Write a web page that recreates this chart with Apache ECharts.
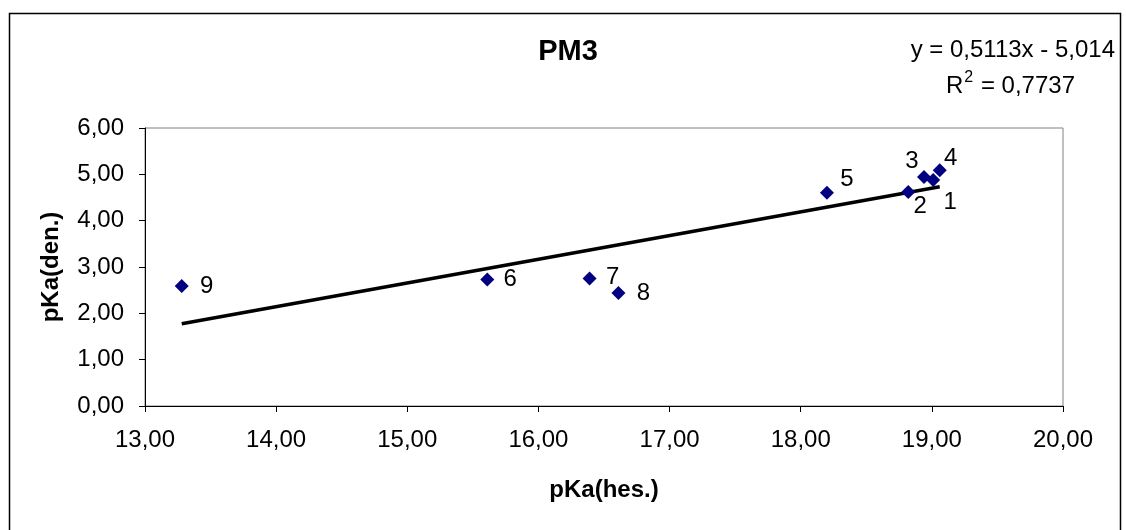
<!DOCTYPE html>
<html>
<head>
<meta charset="utf-8">
<script src="https://cdn.jsdelivr.net/npm/echarts@6/dist/echarts.min.js"></script>
<style>
html,body{margin:0;padding:0;background:#fff;}
#chart{width:1126px;height:530px;}
</style>
</head>
<body>
<div id="chart"></div>
<script>
// ---- data ----
const pointNames = ['1','2','3','4','5','6','7','8','9'];
const pkaHes = [19.01, 18.82, 18.94, 19.06, 18.20, 15.61, 16.39, 16.61, 13.28];
const pkaDen = [4.88, 4.62, 4.94, 5.09, 4.60, 2.73, 2.75, 2.44, 2.59];
const trendSlope = 0.5113;
const trendIntercept = -5.014;
const rSquared = '0,7737';
const xTicks = [13, 14, 15, 16, 17, 18, 19, 20];
const yTicks = [0, 1, 2, 3, 4, 5, 6];

// ---- styling (label placement per point) ----
const labelOffsets = [[17,22],[12,14],[-12,-16],[11,-12],[20,-13],[23,0],[23,-1],[25,0],[25,0]];

const fmt = v => v.toFixed(2).replace('.', ',');
const FONT = 'Liberation Sans, Arial, sans-serif';

const pts = pkaHes.map((x, i) => ({
  value: [x, pkaDen[i]],
  name: pointNames[i],
  label: { offset: labelOffsets[i] }
}));
const xMinData = Math.min(...pkaHes), xMaxData = Math.max(...pkaHes);
const trend = [xMinData, xMaxData].map(x => [x, trendSlope * x + trendIntercept]);

const chart = echarts.init(document.getElementById('chart'), null, {renderer: 'canvas'});
chart.setOption({
  animation: false,
  backgroundColor: '#fff',
  textStyle: { fontFamily: FONT },
  title: {
    text: 'PM3',
    left: 563, top: 32, textAlign: 'center',
    textStyle: { fontFamily: FONT, fontSize: 29, fontWeight: 'bold', color: '#000' }
  },
  grid: {
    left: 145, right: 63, top: 128, bottom: 124,
    show: true, borderColor: '#808080', borderWidth: 1, backgroundColor: '#fff'
  },
  xAxis: {
    type: 'value', min: xTicks[0], max: xTicks[xTicks.length-1], interval: 1,
    name: 'pKa(hes.)', nameLocation: 'middle', nameGap: 72,
    nameTextStyle: { fontFamily: FONT, fontSize: 24, fontWeight: 'bold', color: '#000' },
    axisLine: { lineStyle: { color: '#000', width: 1 } },
    axisTick: { inside: false, length: 6, lineStyle: { color: '#000' } },
    axisLabel: { formatter: fmt, fontSize: 24, color: '#000', margin: 22, fontFamily: FONT },
    splitLine: { show: false }
  },
  yAxis: {
    type: 'value', min: yTicks[0], max: yTicks[yTicks.length-1], interval: 1,
    name: 'pKa(den.)', nameLocation: 'middle', nameGap: 82, nameRotate: 90,
    nameTextStyle: { fontFamily: FONT, fontSize: 24, fontWeight: 'bold', color: '#000' },
    axisLine: { show: true, lineStyle: { color: '#000', width: 1 } },
    axisTick: { show: true, inside: false, length: 6, lineStyle: { color: '#000' } },
    axisLabel: { formatter: fmt, fontSize: 24, color: '#000', margin: 21, fontFamily: FONT },
    splitLine: { show: false }
  },
  series: [
    {
      type: 'line',
      data: trend,
      symbol: 'none',
      lineStyle: { color: '#000', width: 3.5 },
      silent: true,
      z: 2
    },
    {
      type: 'scatter',
      data: pts,
      symbol: 'diamond',
      symbolSize: 14,
      itemStyle: { color: '#000080', opacity: 1 },
      label: {
        show: true, position: 'inside',
        formatter: p => p.name,
        fontFamily: FONT, fontSize: 24, color: '#000'
      },
      z: 3
    }
  ],
  graphic: [
    {
      type: 'rect', left: 7, top: 11,
      shape: { width: 1111, height: 540 },
      style: { fill: 'none', stroke: '#000', lineWidth: 1.5 },
      z: 100, silent: true
    },
    {
      type: 'text', right: 11, top: 38,
      style: {
        text: 'y = 0,5113x - 5,014', fontFamily: FONT, fontSize: 24, fill: '#000', textAlign: 'right'
      }
    },
    {
      type: 'text', right: 51, top: 70,
      style: {
        text: '{r|R}{s|2}{r| = ' + rSquared + '}',
        rich: {
          r: { fontFamily: FONT, fontSize: 24, color: '#000', verticalAlign: 'bottom' },
          s: { fontFamily: FONT, fontSize: 16, color: '#000', verticalAlign: 'top', padding: [0,1,12,1] }
        }
      }
    }
  ]
});
</script>
</body>
</html>
